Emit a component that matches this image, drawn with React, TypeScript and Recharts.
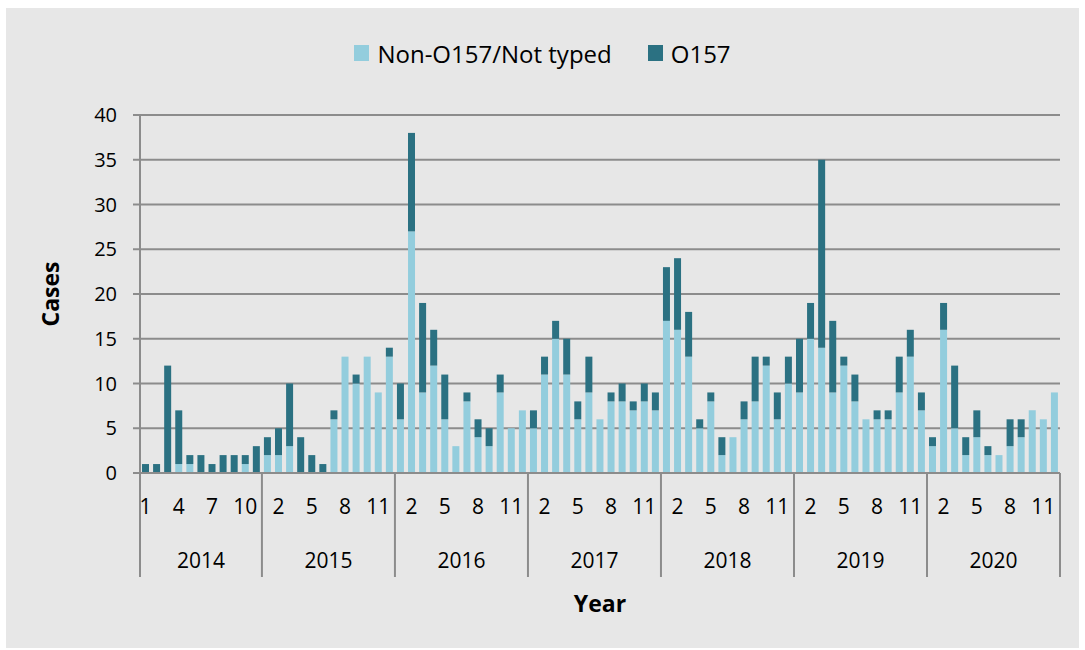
import React from 'react';
import { BarChart, Bar, XAxis, YAxis, CartesianGrid, Legend } from 'recharts';

// monthly STEC cases, 2014 has only 11 months shown
const years = [2014, 2015, 2016, 2017, 2018, 2019, 2020];
const monthsInYear = [11, 12, 12, 12, 12, 12, 12];

const nonO157 = [
  0, 0, 0, 1, 1, 0, 0, 0, 0, 1, 0,
  2, 2, 3, 0, 0, 0, 6, 13, 10, 13, 9, 13,
  6, 27, 9, 12, 6, 3, 8, 4, 3, 9, 5, 7,
  5, 11, 15, 11, 6, 9, 6, 8, 8, 7, 8, 7,
  17, 16, 13, 5, 8, 2, 4, 6, 8, 12, 6, 10,
  9, 15, 14, 9, 12, 8, 6, 6, 6, 9, 13, 7,
  3, 16, 5, 2, 4, 2, 2, 3, 4, 7, 6, 9,
];

const o157 = [
  1, 1, 12, 6, 1, 2, 1, 2, 2, 1, 3,
  2, 3, 7, 4, 2, 1, 1, 0, 1, 0, 0, 1,
  4, 11, 10, 4, 5, 0, 1, 2, 2, 2, 0, 0,
  2, 2, 2, 4, 2, 4, 0, 1, 2, 1, 2, 2,
  6, 8, 5, 1, 1, 2, 0, 2, 5, 1, 3, 3,
  6, 4, 21, 8, 1, 3, 0, 1, 1, 4, 3, 2,
  1, 3, 7, 2, 3, 1, 0, 3, 2, 0, 0, 0,
];

const yTicks = [0, 5, 10, 15, 20, 25, 30, 35, 40];

const LIGHT = '#93cddd';
const DARK = '#2b7182';
const GRID = '#8c8c8c';
const FONT = '"Open Sans", sans-serif';

const W = 1073;
const H = 640;
const LEGEND_H = 30;
const M = { top: 107 - LEGEND_H, right: 19, left: 20, bottom: 65 };
const Y_W = 114;
const MONTH_H = 50;
const YEAR_H = 60;
const PLOT_W = W - M.left - Y_W - M.right;
const PLOT_BOTTOM = H - M.bottom - YEAR_H - MONTH_H;
const SEP_BOTTOM = PLOT_BOTTOM + 104;

const data: any[] = [];
years.forEach((yr, yi) => {
  for (let m = 1; m <= monthsInYear[yi]; m++) {
    const idx = data.length;
    data.push({
      idx,
      m: String(m),
      year: yr,
      first: m === 1,
      len: monthsInYear[yi],
      non: nonO157[idx],
      o157: o157[idx],
    });
  }
});

const YearTick = (props: any) => {
  const { x, payload } = props;
  const i = Number(payload?.value);
  const row = data[i];
  if (!row) return null;
  const bw = PLOT_W / data.length;
  const left = x - bw / 2;
  return (
    <g>
      {row.first && (
        <line x1={left} x2={left} y1={PLOT_BOTTOM} y2={SEP_BOTTOM} stroke={GRID} strokeWidth={2} />
      )}
      {i === data.length - 1 && (
        <line x1={x + bw / 2} x2={x + bw / 2} y1={PLOT_BOTTOM} y2={SEP_BOTTOM} stroke={GRID} strokeWidth={2} />
      )}
      {row.first && (
        <text
          x={left + (row.len * bw) / 2}
          y={PLOT_BOTTOM + 87}
          textAnchor="middle"
          dominantBaseline="central"
          fontSize={21}
          fontFamily={FONT}
          fill="#000"
        >
          {row.year}
        </text>
      )}
    </g>
  );
};

const LegendBox = () => (
  <div
    style={{
      display: 'flex',
      justifyContent: 'center',
      alignItems: 'center',
      height: LEGEND_H,
      fontFamily: FONT,
      fontSize: 24,
      color: '#000',
    }}
  >
    <span style={{ width: 15, height: 16, background: LIGHT, marginRight: 8 }} />
    <span style={{ marginRight: 36 }}>Non-O157/Not typed</span>
    <span style={{ width: 15, height: 16, background: DARK, marginRight: 8 }} />
    <span>O157</span>
  </div>
);

export default function App() {
  return (
    <div style={{ position: 'absolute', left: 0, top: 0, width: 1085, height: 650, background: '#fff' }}>
      <div style={{ position: 'absolute', left: 6, top: 8, width: W, height: H, background: '#e7e7e7' }}>
        <BarChart width={W} height={H} data={data} margin={M} barSize={7}>
          <CartesianGrid vertical={false} stroke={GRID} strokeWidth={2} />
          <XAxis
            dataKey="m"
            interval={2}
            tickLine={false}
            axisLine={{ stroke: GRID, strokeWidth: 2 }}
            tick={{ fill: '#000', fontSize: 21, fontFamily: FONT }}
            tickMargin={20}
            height={MONTH_H}
          />
          <XAxis
            xAxisId="yr"
            dataKey="idx"
            interval={0}
            axisLine={false}
            tickLine={false}
            tick={<YearTick />}
            height={YEAR_H}
            label={{
              content: (p: any) => {
                const vb = p.viewBox || {};
                return (
                  <text
                    x={vb.x + vb.width / 2}
                    y={vb.y + vb.height + 20}
                    textAnchor="middle"
                    dominantBaseline="central"
                    fontSize={23}
                    fontWeight="bold"
                    fontFamily={FONT}
                    fill="#000"
                  >
                    Year
                  </text>
                );
              },
            }}
          />
          <YAxis
            domain={[0, 40]}
            ticks={yTicks}
            width={Y_W}
            tickSize={7}
            tickMargin={16}
            tickLine={{ stroke: GRID, strokeWidth: 2 }}
            axisLine={{ stroke: GRID, strokeWidth: 2 }}
            tick={{ fill: '#000', fontSize: 20, fontFamily: FONT }}
            label={{
              content: (p: any) => {
                const vb = p.viewBox || {};
                const cx = 44;
                const cy = vb.y + vb.height / 2;
                return (
                  <text
                    x={cx}
                    y={cy}
                    transform={`rotate(-90 ${cx} ${cy})`}
                    textAnchor="middle"
                    dominantBaseline="central"
                    fontSize={23}
                    fontWeight="bold"
                    fontFamily={FONT}
                    fill="#000"
                  >
                    Cases
                  </text>
                );
              },
            }}
          />
          <Legend
            verticalAlign="top"
            content={<LegendBox />}
            wrapperStyle={{ top: 30, left: 0, width: W, height: LEGEND_H }}
          />
          <Bar dataKey="non" name="Non-O157/Not typed" stackId="a" fill={LIGHT} isAnimationActive={false} />
          <Bar dataKey="o157" name="O157" stackId="a" fill={DARK} isAnimationActive={false} />
        </BarChart>
      </div>
    </div>
  );
}
